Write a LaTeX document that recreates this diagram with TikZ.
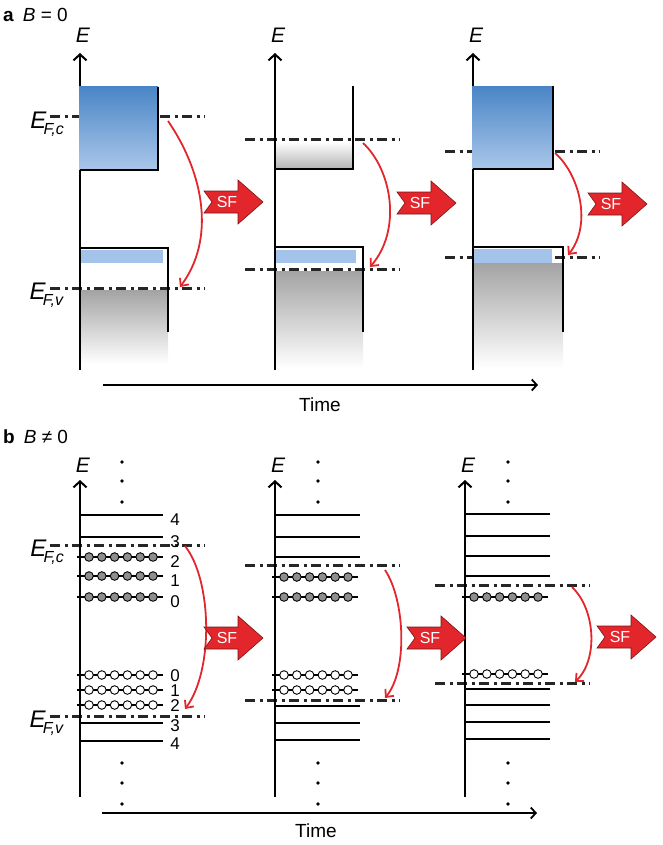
\documentclass[tikz,border=0pt]{standalone}
\usepackage{fontspec}
\setmainfont{Liberation Sans}
\usepackage{tikz}
\usetikzlibrary{arrows.meta}
\definecolor{sfred}{HTML}{E3262B}
\definecolor{sfedge}{HTML}{7A1515}
\definecolor{bandtop}{HTML}{4A86C6}
\definecolor{bandbot}{HTML}{AAC7EA}
\definecolor{strip}{HTML}{A3C3EB}
\definecolor{elecgray}{HTML}{8E8E8E}
\tikzstyle{axis} = [line width=2pt,-{Straight Barb[length=6pt,width=13pt]}]
\tikzstyle{timeaxis} = [line width=1.8pt,-{Straight Barb[length=5pt,width=11pt]}]
\tikzstyle{edge} = [line width=2pt]
\tikzstyle{fermi} = [line width=3pt,draw=black!85,dash pattern=on 10pt off 4.5pt on 3pt off 4.5pt]
\tikzstyle{level} = [line width=1.4pt]
\tikzstyle{occlevel} = [line width=2.4pt]
\tikzstyle{elec} = [draw=black,line width=0.9pt,fill=elecgray]
\tikzstyle{hole} = [draw=black,line width=0.9pt,fill=white]
\tikzstyle{hop} = [line width=1.8pt,draw=sfred,-{Straight Barb[length=6pt,width=11pt]}]
\tikzstyle{sfbody} = [fill=sfred,draw=sfedge,line width=0.6pt]
\tikzstyle{sftext} = [text=white,font=\fontsize{16}{16}\selectfont,inner sep=0pt]
\tikzstyle{elabel} = [font=\fontsize{21}{21}\selectfont\itshape,inner sep=0pt]
\tikzstyle{lvlnum} = [font=\fontsize{17}{17}\selectfont,inner sep=0pt,text height=12pt,text depth=0pt]
\tikzstyle{ttl} = [font=\fontsize{19}{19}\selectfont,inner sep=0pt]
\newcommand{\EF}[1]{\fontsize{24}{24}\selectfont\textit{E}\kern-3pt\raisebox{-6pt}{\fontsize{16}{16}\selectfont\textit{F,#1}}}
\tikzset{pics/sfarrow/.style={code={
  \draw[sfbody] (0,-11) -- (34,-11) -- (34,-22) -- (59,0) -- (34,22) -- (34,11) -- (0,11) -- (8,0) -- cycle;
  \node[sftext] (-t) at (23,0) {SF};
}}}

\begin{document}
\begin{tikzpicture}[x=1pt,y=-1pt]
\useasboundingbox (0,0) rectangle (662,845);

% Panel a
\node[ttl,anchor=west] (laba) at (3,15) {\textbf{a}\hspace{9pt}\textit{B} = 0};

% Fermi levels
\draw[fermi] (50,117) -- (205,117);
\draw[fermi] (50,288) -- (205,288);
\draw[fermi] (245,140) -- (400,140);
\draw[fermi] (245,269) -- (400,269);
\draw[fermi] (445,152) -- (600,152);
\draw[fermi] (445,257) -- (600,257);
\node[anchor=east,inner sep=0pt] (efca) at (64,124) {\EF{c}};
\node[anchor=east,inner sep=0pt] (efva) at (64,295) {\EF{v}};

% Axes
\foreach \x/\n in {80/1,275/2,473/3} {
  \coordinate (a\n bot) at (\x,370);
  \coordinate (a\n top) at (\x,53);
  \draw[axis] (a\n bot) -- (a\n top);
  \node[elabel] (Ea\n) at (\x+3,35) {E};
}

% Bands
\shade[top color=bandtop,bottom color=bandbot] (79,87) rectangle (158,170);
\shade[top color=white,bottom color=black!30] (276,142) rectangle (353,169);
\shade[top color=bandtop,bottom color=bandbot] (472,87) rectangle (553,169);
\shade[top color=black!36,bottom color=white] (81,290) rectangle (168,364);
\shade[top color=black!36,bottom color=white] (276,271) rectangle (363,368);
\shade[top color=black!36,bottom color=white] (474,263) rectangle (563,368);
\fill[strip] (81,250) rectangle (163,263);
\fill[strip] (276,250) rectangle (356,263);
\fill[strip] (474,249) rectangle (552,263);
\draw[edge] (158,87) -- (158,170) -- (80,170);
\draw[edge] (353,86) -- (353,169) -- (275,169);
\draw[edge] (553,86) -- (553,169) -- (473,169);
\draw[edge] (80,248) -- (168,248) -- (168,332);
\draw[edge] (275,247) -- (363,247) -- (363,332);
\draw[edge] (473,247) -- (563,247) -- (563,332);

% Arrows
\coordinate (h1s) at (168,121); \coordinate (h1e) at (180,287);
\coordinate (h2s) at (363,143); \coordinate (h2e) at (370,267);
\coordinate (h3s) at (555,153); \coordinate (h3e) at (568,255);
\draw[hop] (h1s) .. controls (205,175) and (215,240) .. (h1e);
\draw[hop] (h2s) .. controls (392,170) and (402,230) .. (h2e);
\draw[hop] (h3s) .. controls (580,175) and (592,225) .. (h3e);
\pic (sfa1) at (204,202) {sfarrow};
\pic (sfa2) at (397,203) {sfarrow};
\pic (sfa3) at (588,204) {sfarrow};

\coordinate (ta0) at (103,385); \coordinate (ta1) at (538,385);
\draw[timeaxis] (ta0) -- (ta1);
\node[ttl] (timea) at (320,405) {Time};

% Panel b
\node[ttl,anchor=west] (labb) at (3,437) {\textbf{b}\hspace{9pt}\textit{B} ≠ 0};

% Fermi levels
\draw[fermi] (50,545) -- (205,545);
\draw[fermi] (50,716) -- (205,716);
\draw[fermi] (245,565) -- (400,565);
\draw[fermi] (245,700) -- (400,700);
\draw[fermi] (435,585) -- (590,585);
\draw[fermi] (435,683) -- (590,683);
\node[anchor=east,inner sep=0pt] (efcb) at (64,552) {\EF{c}};
\node[anchor=east,inner sep=0pt] (efvb) at (64,723) {\EF{v}};

% Axes
\foreach \x/\d/\n in {80/122/1,275/318/2,465/508/3} {
  \coordinate (b\n bot) at (\x,797);
  \coordinate (b\n top) at (\x,480);
  \draw[axis] (b\n bot) -- (b\n top);
  \node[elabel] (Eb\n) at (\x+3,465) {E};
  \foreach \y in {462,481,502,763,783,804}
    \fill (\d,\y) circle (1.8);
}

% Landau levels
\foreach \y in {515,537,723,741} \draw[level] (80,\y) -- (163,\y);
\foreach \y in {515,537,557,706,723,740} \draw[level] (275,\y) -- (360,\y);
\foreach \y in {514,536,556,576,689,705,722,739} \draw[level] (465,\y) -- (550,\y);
\foreach \x/\y in {80/557,80/576,80/597,275/577,275/597,465/597} {
  \draw[occlevel] (\x-3,\y) -- (\x+83,\y);
  \foreach \k in {0,...,5} \draw[elec] ({\x+9+12.8*\k},\y) circle (4.3);
}
\foreach \x/\y in {80/675,80/690,80/705,275/675,275/690,465/674} {
  \draw[occlevel] (\x-3,\y) -- (\x+83,\y);
  \foreach \k in {0,...,5} \draw[hole] ({\x+9+12.8*\k},\y) circle (4.3);
}
\foreach \y/\n in {519/4,541/3,561/2,580/1,601/0}
  \node[lvlnum] (cb\n) at (175,\y) {\n};
\foreach \y/\n in {675/0,690/1,705/2,725/3,743/4}
  \node[lvlnum] (vb\n) at (175,\y) {\n};

% Arrows
\coordinate (k1s) at (185,546); \coordinate (k1e) at (185,709);
\coordinate (k2s) at (385,570); \coordinate (k2e) at (385,698);
\coordinate (k3s) at (572,587); \coordinate (k3e) at (575,682);
\draw[hop] (k1s) .. controls (212,580) and (214,670) .. (k1e);
\draw[hop] (k2s) .. controls (405,600) and (408,670) .. (k2e);
\draw[hop] (k3s) .. controls (596,610) and (598,660) .. (k3e);
\pic (sfb1) at (204,638) {sfarrow};
\pic (sfb2) at (407,638) {sfarrow};
\pic (sfb3) at (597,637) {sfarrow};

\coordinate (tb0) at (102,813); \coordinate (tb1) at (537,813);
\draw[timeaxis] (tb0) -- (tb1);
\node[ttl] (timeb) at (316,831) {Time};

\end{tikzpicture}
\end{document}
